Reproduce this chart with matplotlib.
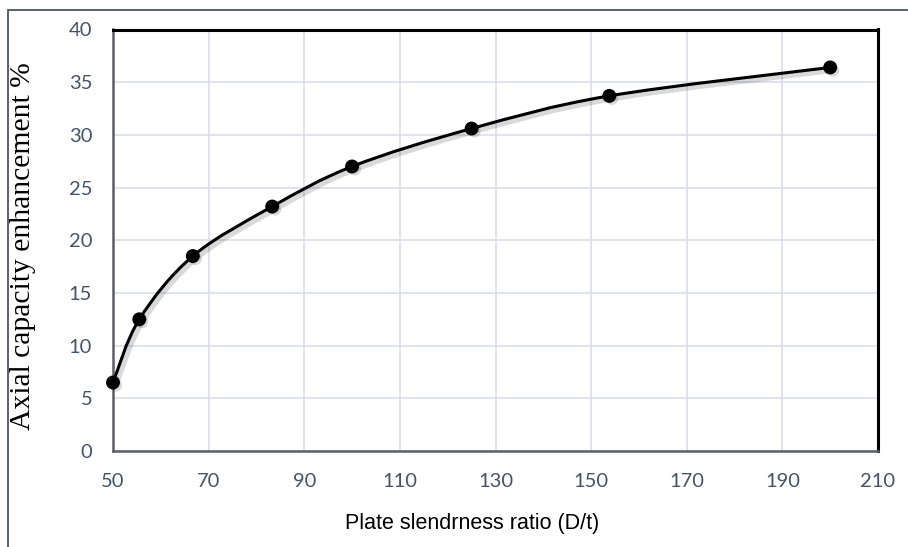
import numpy as np
import matplotlib.pyplot as plt
from matplotlib.path import Path
from matplotlib.patches import PathPatch, Rectangle
import matplotlib.patheffects as pe

# data
slenderness = [50, 55.5, 66.7, 83.3, 100, 125, 153.8, 200]
enhancement = [6.5, 12.5, 18.5, 23.2, 27.0, 30.6, 33.7, 36.4]

x_ticks = [50, 70, 90, 110, 130, 150, 170, 190, 210]
y_ticks = [0, 5, 10, 15, 20, 25, 30, 35, 40]

tick_color = "#44546a"
grid_color = "#d9dee7"


def smooth_path(xs, ys, tension=1 / 6.0):
    # excel-style smoothed line: cubic bezier segments through every point
    xs = np.asarray(xs, float)
    ys = np.asarray(ys, float)
    n = len(xs)
    verts = [(xs[0], ys[0])]
    codes = [Path.MOVETO]
    for i in range(n - 1):
        i0 = max(i - 1, 0)
        i3 = min(i + 2, n - 1)
        c1 = (xs[i] + (xs[i + 1] - xs[i0]) * tension,
              ys[i] + (ys[i + 1] - ys[i0]) * tension)
        c2 = (xs[i + 1] - (xs[i3] - xs[i]) * tension,
              ys[i + 1] - (ys[i3] - ys[i]) * tension)
        verts += [c1, c2, (xs[i + 1], ys[i + 1])]
        codes += [Path.CURVE4] * 3
    return Path(verts, codes)


fig = plt.figure(figsize=(9.08, 5.47), dpi=100)
ax = fig.add_axes([113 / 908, 1 - 451 / 547, (878 - 113) / 908, (451 - 29.5) / 547])

shadow = [pe.SimpleLineShadow(offset=(2, -2), alpha=0.15, linewidth=4), pe.Normal()]

curve = PathPatch(smooth_path(slenderness, enhancement), facecolor="none",
                  edgecolor="black", linewidth=2.2, zorder=3)
curve.set_path_effects(shadow)
ax.add_patch(curve)

ax.plot(slenderness, enhancement, linestyle="none", marker="o", markersize=9,
        color="black", zorder=4, clip_on=False,
        path_effects=[pe.SimplePatchShadow(offset=(2, -2), alpha=0.15), pe.Normal()])

ax.set_xlim(50, 210)
ax.set_ylim(0, 40)
ax.set_xticks(x_ticks)
ax.set_yticks(y_ticks)
ax.grid(True, color=grid_color, linewidth=1.2)
ax.set_axisbelow(True)
ax.tick_params(length=0, labelsize=14.5, labelcolor=tick_color)
ax.tick_params(axis='x', pad=16)
ax.tick_params(axis='y', pad=15)
for lbl in ax.get_xticklabels() + ax.get_yticklabels():
    lbl.set_family("Lato")

ax.spines['top'].set_color('black')
ax.spines['right'].set_color('black')
ax.spines['top'].set_linewidth(2.2)
ax.spines['right'].set_linewidth(2.2)
ax.spines['left'].set_color('#5a5f66')
ax.spines['bottom'].set_color('#5a5f66')
ax.spines['left'].set_linewidth(1.8)
ax.spines['bottom'].set_linewidth(1.8)

ax.set_xlabel("Plate slendrness ratio (D/t)", family="Liberation Sans",
              fontsize=15.5, color="black")
ax.xaxis.set_label_coords(0.469, -0.147)
ax.set_ylabel("Axial capacity enhancement %", family="Liberation Serif",
              fontsize=21.3, color="black")
ax.yaxis.set_label_coords(-0.100, 0.485)

# outer frame round the chart
fig.patches.append(Rectangle((8 / 908, -0.05), 1.0, 1 - 10 / 547 + 0.05,
                             transform=fig.transFigure, fill=False,
                             edgecolor="#4a5568", linewidth=1.3))

plt.savefig("out.png", dpi=100)
